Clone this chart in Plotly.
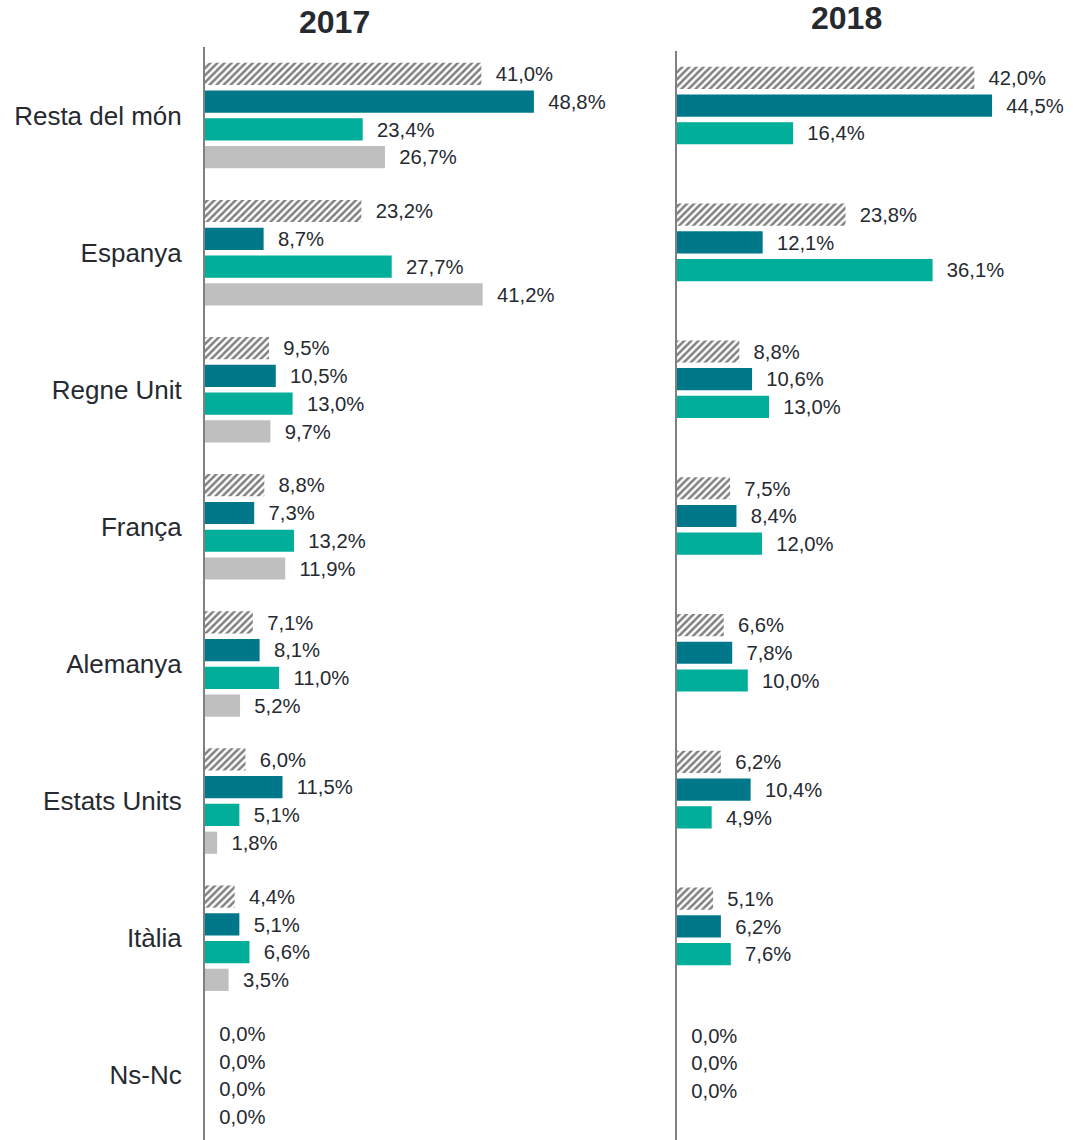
import plotly.graph_objects as go

categories = ["Resta del món", "Espanya", "Regne Unit", "França", "Alemanya",
              "Estats Units", "Itàlia", "Ns-Nc"]

# 2017 panel (4 series)
s2017_hatched = [41.0, 23.2, 9.5, 8.8, 7.1, 6.0, 4.4, 0.0]
s2017_dark = [48.8, 8.7, 10.5, 7.3, 8.1, 11.5, 5.1, 0.0]
s2017_green = [23.4, 27.7, 13.0, 13.2, 11.0, 5.1, 6.6, 0.0]
s2017_grey = [26.7, 41.2, 9.7, 11.9, 5.2, 1.8, 3.5, 0.0]

# 2018 panel (3 series)
s2018_hatched = [42.0, 23.8, 8.8, 7.5, 6.6, 6.2, 5.1, 0.0]
s2018_dark = [44.5, 12.1, 10.6, 8.4, 7.8, 10.4, 6.2, 0.0]
s2018_green = [16.4, 36.1, 13.0, 12.0, 10.0, 4.9, 7.6, 0.0]

titles = ["2017", "2018"]

C_DARK = "#00788A"
C_GREEN = "#00AE9A"
C_GREY = "#BFBFBF"
TXT = "#262a30"
FONT = "Liberation Sans, Arial, sans-serif"
NB = "\u00a0\u00a0"


def fmt(vals):
    return [NB + f"{v:.1f}".replace(".", ",") + "%" for v in vals]


fig = go.Figure()


def add_bar(vals, color, xa, ya, hatched=False, show_text=True):
    marker = dict(color=color, line=dict(width=0))
    if hatched:
        marker = dict(color="white", line=dict(width=0),
                      pattern=dict(shape="/", fgcolor="#000000", bgcolor="white",
                                   size=5, solidity=0.5))
    fig.add_trace(go.Bar(
        x=vals, y=categories, orientation="h", marker=marker,
        text=fmt(vals) if show_text else [""] * len(vals),
        textposition="outside", cliponaxis=False,
        textfont=dict(size=21, color=TXT, family=FONT),
        xaxis=xa, yaxis=ya, showlegend=False, hoverinfo="skip"))


add_bar(s2017_hatched, None, "x", "y", hatched=True)
add_bar(s2017_dark, C_DARK, "x", "y")
add_bar(s2017_green, C_GREEN, "x", "y")
add_bar(s2017_grey, C_GREY, "x", "y")

add_bar(s2018_hatched, None, "x2", "y2", hatched=True)
add_bar(s2018_dark, C_DARK, "x2", "y2")
add_bar(s2018_green, C_GREEN, "x2", "y2")
add_bar([0.0] * len(categories), C_GREY, "x2", "y2", show_text=False)

W, H = 1073, 1140
left0, right0 = 205, 677
ytop1 = 47
ytop2 = 51
yrange = [7.472, -0.5]
yrange2 = [7.46, -0.5]

fig.update_layout(
    width=W, height=H,
    margin=dict(l=0, r=0, t=0, b=0),
    paper_bgcolor="white", plot_bgcolor="white",
    barmode="group", bargap=0.19, bargroupgap=0.2,
    font=dict(family=FONT, color=TXT),
    xaxis=dict(domain=[left0 / W, 640 / W], range=[0, 435 / 6.74],
               visible=False, fixedrange=True),
    xaxis2=dict(domain=[right0 / W, 1.0], range=[0, 396 / 7.08],
                visible=False, fixedrange=True),
    yaxis=dict(domain=[0, 1 - ytop1 / H], range=yrange, anchor="x",
               showline=True, linecolor="#808080", linewidth=2,
               ticks="outside", ticklen=16, tickcolor="rgba(0,0,0,0)",
               tickfont=dict(size=26, color=TXT, family=FONT),
               showgrid=False, zeroline=False, fixedrange=True),
    yaxis2=dict(domain=[0, 1 - ytop2 / H], range=yrange2, anchor="x2",
                showline=True, linecolor="#808080", linewidth=2,
                showticklabels=False, ticks="",
                showgrid=False, zeroline=False, fixedrange=True),
    annotations=[
        dict(text="<b>" + titles[0] + "</b>", x=334 / W, y=1 - 22 / H,
             xref="paper", yref="paper", showarrow=False,
             xanchor="center", yanchor="middle",
             font=dict(size=32, color=TXT, family=FONT)),
        dict(text="<b>" + titles[1] + "</b>", x=846 / W, y=1 - 18 / H,
             xref="paper", yref="paper", showarrow=False,
             xanchor="center", yanchor="middle",
             font=dict(size=32, color=TXT, family=FONT)),
    ],
)

fig.write_html("out.html", config={"displayModeBar": False},
               post_script="document.body.style.margin='0';document.body.style.padding='0';")
